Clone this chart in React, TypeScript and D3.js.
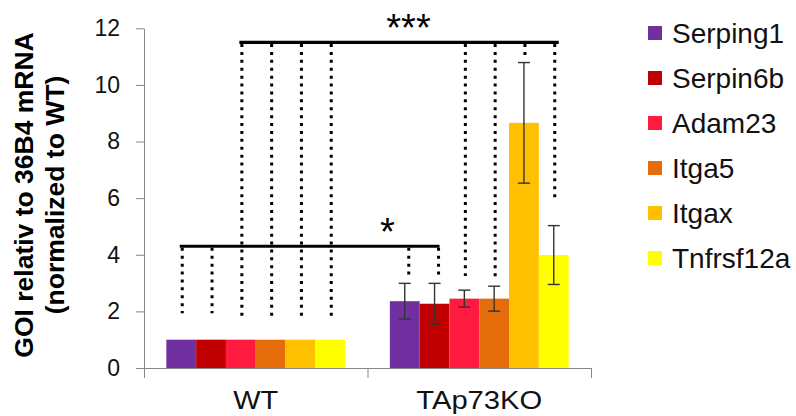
import React, { useEffect, useRef } from 'react';
import * as d3 from 'd3';

const groups = ['WT', 'TAp73KO'];
const genes = ['Serping1', 'Serpin6b', 'Adam23', 'Itga5', 'Itgax', 'Tnfrsf12a'];
const colors = ['#7030A0', '#C00000', '#FF1A40', '#E46C0A', '#FFC000', '#FFFF00'];
const wtValues = [1, 1, 1, 1, 1, 1];
const koValues = [2.36, 2.27, 2.45, 2.45, 8.66, 3.99];
const wtErrors = [0, 0, 0, 0, 0, 0];
const koErrors = [0.63, 0.72, 0.3, 0.44, 2.13, 1.04];
const yTicks = [0, 2, 4, 6, 8, 10, 12];

// significance brackets: level of the bar, genes it joins, where the dotted drops end
const sigLabels = ['*', '***'];
const sigLevels = [4.3, 11.5];
const sigGenes = [['Serping1', 'Serpin6b'], ['Adam23', 'Itga5', 'Itgax', 'Tnfrsf12a']];
const sigWtEnds = [[1.93, 1.93], [1.84, 1.84, 1.84, 1.84]];
const sigKoEnds = [[3.22, 3.22], [3.25, 3.2, 11.05, 6.0]];

const FONT = '"Liberation Sans", Arial, sans-serif';

function GeneChart() {
  const ref = useRef<SVGSVGElement>(null);

  useEffect(() => {
    const width = 796, height = 416;
    const margin = { top: 28.3, right: 205, bottom: 48, left: 144 };
    const svg = d3.select(ref.current);
    svg.selectAll('*').remove();

    const x0 = d3.scaleBand()
      .domain(groups)
      .range([margin.left, width - margin.right]);
    const x1 = d3.scaleBand()
      .domain(genes)
      .range([0, x0.bandwidth()])
      .paddingInner(0)
      .paddingOuter(0.75);
    const y = d3.scaleLinear()
      .domain([0, 12])
      .range([height - margin.bottom, margin.top]);
    const color = d3.scaleOrdinal<string, string>().domain(genes).range(colors);

    const cx = (g: string, gene: string) => (x0(g) as number) + (x1(gene) as number) + x1.bandwidth() / 2;

    const rows = groups.flatMap((g, gi) => genes.map((gene, i) => ({
      group: g,
      gene: gene,
      value: gi === 0 ? wtValues[i] : koValues[i],
      err: gi === 0 ? wtErrors[i] : koErrors[i]
    })));

    // bars
    svg.append('g').selectAll('rect')
      .data(rows)
      .enter().append('rect')
      .attr('x', d => (x0(d.group) as number) + (x1(d.gene) as number))
      .attr('width', x1.bandwidth())
      .attr('y', d => y(d.value))
      .attr('height', d => y(0) - y(d.value))
      .style('fill', d => color(d.gene));

    // error bars
    const eb = svg.append('g')
      .attr('stroke', '#333')
      .attr('stroke-width', 1.4);
    rows.filter(d => d.err > 0).forEach(d => {
      const c = cx(d.group, d.gene);
      eb.append('line').attr('x1', c).attr('x2', c).attr('y1', y(d.value + d.err)).attr('y2', y(d.value - d.err));
      eb.append('line').attr('x1', c - 6).attr('x2', c + 6).attr('y1', y(d.value + d.err)).attr('y2', y(d.value + d.err));
      eb.append('line').attr('x1', c - 6).attr('x2', c + 6).attr('y1', y(d.value - d.err)).attr('y2', y(d.value - d.err));
    });

    // y axis
    const yAxis = svg.append('g')
      .attr('transform', 'translate(' + margin.left + ',0)')
      .call(d3.axisLeft(y).tickValues(yTicks).tickSize(8).tickSizeOuter(0).tickPadding(16));
    yAxis.select('.domain').attr('stroke', '#868686');
    yAxis.selectAll('.tick line').attr('stroke', '#868686');
    yAxis.selectAll('.tick text')
      .attr('fill', '#111')
      .style('font-family', FONT)
      .style('font-size', '23px');

    // x axis line and category separators
    const axisY = y(0);
    const bounds = groups.map(g => x0(g) as number).concat([width - margin.right]);
    const xa = svg.append('g').attr('stroke', '#868686').attr('stroke-width', 1);
    xa.append('line').attr('x1', margin.left).attr('x2', width - margin.right).attr('y1', axisY + 0.5).attr('y2', axisY + 0.5);
    bounds.forEach(b => {
      xa.append('line').attr('x1', b + 0.5).attr('x2', b + 0.5).attr('y1', axisY).attr('y2', axisY + 10);
    });
    // labels look a bit wider than plain Arial in the original
    const labelWidths = [45, 126];
    svg.append('g').selectAll('text')
      .data(groups)
      .enter().append('text')
      .attr('x', d => (x0(d) as number) + x0.bandwidth() / 2)
      .attr('y', axisY + 41)
      .attr('text-anchor', 'middle')
      .attr('fill', '#111')
      .attr('textLength', (d, i) => labelWidths[i])
      .attr('lengthAdjust', 'spacingAndGlyphs')
      .style('font-family', FONT)
      .style('font-size', '26px')
      .text(d => d);

    // y axis title
    const title = svg.append('g')
      .attr('transform', 'translate(0,195) rotate(-90)')
      .style('font-family', FONT)
      .style('font-size', '26.5px')
      .style('font-weight', 'bold')
      .attr('text-anchor', 'middle')
      .attr('fill', '#000');
    title.append('text').attr('x', 0).attr('y', 33).text('GOI relativ to 36B4 mRNA');
    title.append('text').attr('x', 0).attr('y', 64).text('(normalized to WT)');

    // significance brackets
    const labelX = [20, 41];
    sigLabels.forEach((lab, k) => {
      const lvl = y(sigLevels[k]);
      const wtX = sigGenes[k].map(g => cx(groups[0], g));
      const koX = sigGenes[k].map(g => cx(groups[1], g));
      const b = svg.append('g');
      b.append('line')
        .attr('x1', wtX[0] - 1.5).attr('x2', koX[koX.length - 1] + 5)
        .attr('y1', lvl).attr('y2', lvl)
        .attr('stroke', '#000').attr('stroke-width', 3.2);
      const drops = wtX.map((xx, i) => ({ x: xx + 1, end: sigWtEnds[k][i] }))
        .concat(koX.map((xx, i) => ({ x: xx + (k === 0 ? 4 : 1), end: sigKoEnds[k][i] })));
      b.selectAll('.drop')
        .data(drops)
        .enter().append('line')
        .attr('x1', d => d.x).attr('x2', d => d.x)
        .attr('y1', lvl + 1.6).attr('y2', d => y(d.end))
        .attr('stroke', '#000')
        .attr('stroke-width', 3)
        .attr('stroke-dasharray', '3,4.9');
      b.append('text')
        .attr('x', (x0(groups[1]) as number) + labelX[k])
        .attr('y', lvl - 1)
        .attr('text-anchor', 'middle')
        .style('font-family', FONT)
        .style('font-size', '38px')
        .attr('fill', '#000')
        .text(lab);
    });

    // legend
    const leg = svg.append('g').attr('transform', 'translate(648,33)');
    genes.forEach((g, i) => {
      const row = leg.append('g').attr('transform', 'translate(0,' + i * 45 + ')');
      row.append('rect').attr('x', 0).attr('y', -7).attr('width', 14).attr('height', 14).style('fill', color(g));
      row.append('text')
        .attr('x', 24).attr('y', 10)
        .attr('fill', '#111')
        .style('font-family', FONT)
        .style('font-size', '28px')
        .text(g);
    });
  }, []);

  return <svg ref={ref} width={796} height={416} style={{ position: 'absolute', left: 0, top: 0, background: '#fff' }} />;
}

export default function App() {
  return <GeneChart />;
}
